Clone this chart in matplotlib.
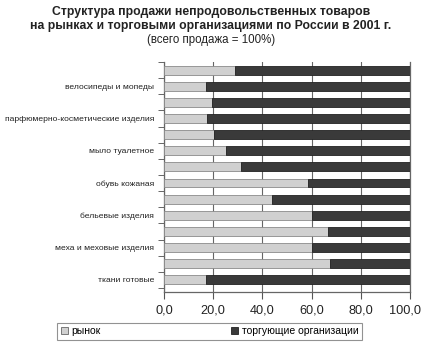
import matplotlib
matplotlib.use("Agg")
import matplotlib.pyplot as plt
import matplotlib.transforms as mtransforms
import numpy as np
from matplotlib.patches import Patch

plt.rcParams['font.family'] = ['Liberation Sans', 'DejaVu Sans']

# Categories from top to bottom (Excel shows only every other label)
categories = ["", "велосипеды и мопеды", "", "парфюмерно-косметические изделия", "",
              "мыло туалетное", "", "обувь кожаная", "", "бельевые изделия", "",
              "меха и меховые изделия", "", "ткани готовые"]
market = [29, 17, 19.5, 17.5, 20.5, 25, 31.5, 58.5, 44, 60, 66.5, 60, 67.5, 17]
trade = [100 - v for v in market]
series_names = ["рынок", "торгующие организации"]
xticks = [0, 20, 40, 60, 80, 100]
xtick_labels = ["0,0", "20,0", "40,0", "60,0", "80,0", "100,0"]

light = "#d0d0d0"
dark = "#3a3a3a"

fig = plt.figure(figsize=(4.22, 3.51), dpi=100)
fig.patch.set_facecolor("white")
ax = fig.add_axes([164/422, 1-292/351, (410-164)/422, (292-62)/351])

y = np.arange(len(categories))
ax.barh(y, market, height=0.55, color=light, edgecolor="#8a8a8a", linewidth=0.6, zorder=3)
ax.barh(y, trade, left=market, height=0.55, color=dark, edgecolor="#222222", linewidth=0.6, zorder=3)

ax.set_xlim(0, 100)
ax.set_ylim(13.75, -0.5)
ax.set_yticks(y)
ax.set_yticklabels(categories, fontsize=6.1, color="#222222")
ax.set_yticks(np.arange(-0.5, 14, 1), minor=True)
ax.tick_params(axis="y", which="major", length=0, pad=7)
ax.tick_params(axis="y", which="minor", length=4, color="#666666", width=0.7)
ax.set_xticks(xticks)
ax.set_xticklabels(xtick_labels, fontsize=9.2, color="#222222")
ax.tick_params(axis="x", length=5, color="#555555", width=0.8, pad=4)
last = ax.get_xticklabels()[-1]
last.set_transform(last.get_transform() + mtransforms.ScaledTranslation(-5/100, 0, fig.dpi_scale_trans))

ax.grid(axis="x", color="#666666", linewidth=0.8, zorder=0)
for s in ["left", "right", "bottom"]:
    ax.spines[s].set_color("#666666")
    ax.spines[s].set_linewidth(0.9)
ax.spines["top"].set_visible(False)
ax.set_facecolor("white")

fig.text(0.5, 1-12/351, "Структура продажи непродовольственных товаров",
         ha="center", va="center", fontsize=8.8, fontweight="bold", color="#222222")
fig.text(0.5, 1-26/351, "на рынках и торговыми организациями по России в 2001 г.",
         ha="center", va="center", fontsize=8.8, fontweight="bold", color="#222222")
fig.text(0.5, 1-40/351, "(всего продажа = 100%)",
         ha="center", va="center", fontsize=8.3, color="#222222")

handles = [Patch(facecolor=light, edgecolor="#666666", linewidth=0.6),
           Patch(facecolor=dark, edgecolor="#222222", linewidth=0.6)]
leg = fig.legend(handles, series_names, loc="lower left", ncol=2, mode="expand",
                 bbox_to_anchor=(57/422, 1-340/351, 305/422, 18/351),
                 fontsize=7.5, handlelength=0.7, handleheight=0.7, handletextpad=0.3,
                 borderpad=0.35, fancybox=False, frameon=True, borderaxespad=0)
leg.get_frame().set_edgecolor("#777777")
leg.get_frame().set_linewidth(0.8)

fig.savefig("out.png", dpi=100, facecolor="white")
